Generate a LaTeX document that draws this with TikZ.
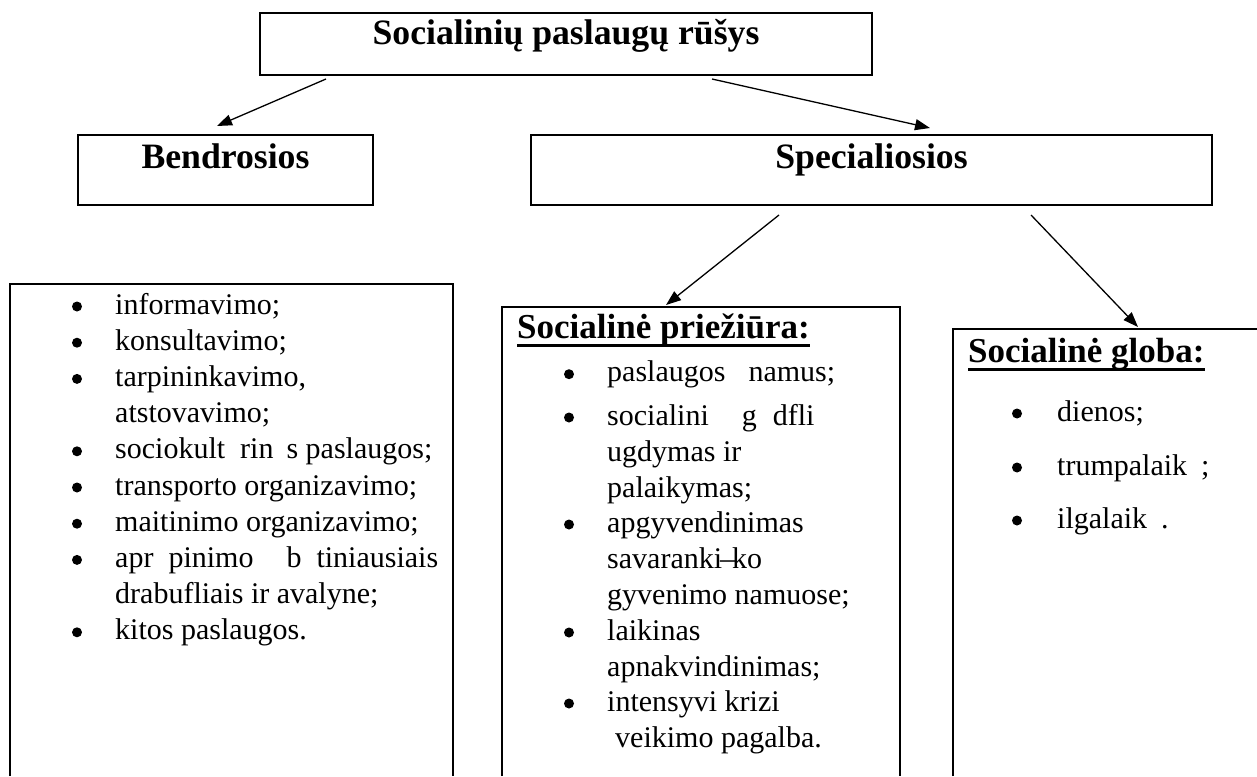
\documentclass[tikz,border=0pt]{standalone}
\usepackage{fontspec}
\setmainfont{Liberation Serif}
\usetikzlibrary{arrows.meta}
\begin{document}
\begin{tikzpicture}[x=1pt,y=-1pt,
  box/.style={draw, line width=2.2pt, inner sep=0pt},
  ttl/.style={font=\fontsize{35.7}{40}\selectfont\bfseries, inner sep=0pt, anchor=base},
  head/.style={font=\fontsize{35}{40}\selectfont\bfseries, inner sep=0pt, anchor=base west},
  itm/.style={font=\fontsize{30}{36}\selectfont, inner sep=0pt, anchor=base west},
  bul/.style={circle, fill, inner sep=0pt, minimum size=10pt, yshift=7.5pt},
  arr/.style={line width=1.3pt, -{Triangle[length=15pt,width=11pt]}},
  frame/.style={line width=2.2pt},
  uline/.style={line width=3pt}
]
\useasboundingbox (0,0) rectangle (1257,776);

% top level boxes
\node[box, minimum width=612pt, minimum height=62pt] (top) at (566,44) {};
\node[ttl] (toptxt) at (566,45) {Socialinių paslaugų rūšys};
\node[box, minimum width=295pt, minimum height=70pt] (bendr) at (225.5,170) {};
\node[ttl] (bendrtxt) at (225.5,168) {Bendrosios};
\node[box, minimum width=681pt, minimum height=70pt] (spec) at (871.5,170) {};
\node[ttl] (spectxt) at (871.5,168) {Specialiosios};

% list frames (open at the bottom)
\coordinate (lbl) at (10,776); \coordinate (ltl) at (10,284);
\coordinate (ltr) at (453,284); \coordinate (lbr) at (453,776);
\draw[frame] (lbl) -- (ltl) -- (ltr) -- (lbr);
\coordinate (mbl) at (502,776); \coordinate (mtl) at (502,307);
\coordinate (mtr) at (900,307); \coordinate (mbr) at (900,776);
\draw[frame] (mbl) -- (mtl) -- (mtr) -- (mbr);
\coordinate (rbl) at (953,776); \coordinate (rtl) at (953,329);
\coordinate (rtr) at (1257,329);
\draw[frame] (rbl) -- (rtl) -- (rtr);

% arrows
\coordinate (a1s) at (326,79); \coordinate (a1e) at (217,126);
\coordinate (a2s) at (712,79); \coordinate (a2e) at (930,128);
\coordinate (a3s) at (779,215); \coordinate (a3e) at (666,305);
\coordinate (a4s) at (1031,215); \coordinate (a4e) at (1138,327);
\draw[arr] (a1s) -- (a1e);
\draw[arr] (a2s) -- (a2e);
\draw[arr] (a3s) -- (a3e);
\draw[arr] (a4s) -- (a4e);

% left list
\node[bul] (lb0) at (77,314) {};
\node[itm] (l0) at (115,314) {informavimo;};
\node[bul] (lb1) at (77,350.2) {};
\node[itm] (l1) at (115,350.2) {konsultavimo;};
\node[bul] (lb2) at (77,386.4) {};
\node[itm] (l2) at (115,386.4) {tarpininkavimo,};
\node[itm] (l3) at (115,422.6) {atstovavimo;};
\node[bul] (lb4) at (77,458.8) {};
\node[itm] (l4) at (115,458.8) {sociokult\hspace{15pt}rin\hspace{13pt}s paslaugos;};
\node[bul] (lb5) at (77,495) {};
\node[itm] (l5) at (115,495) {transporto organizavimo;};
\node[bul] (lb6) at (77,531.2) {};
\node[itm] (l6) at (115,531.2) {maitinimo organizavimo;};
\node[bul] (lb7) at (77,567.4) {};
\node[itm] (l7) at (115,567.4) {apr\hspace{15pt}pinimo\hspace{33pt}b\hspace{15pt}tiniausiais};
\node[itm] (l8) at (115,603.6) {drabufliais ir avalyne;};
\node[bul] (lb9) at (77,639.8) {};
\node[itm] (l9) at (115,639.8) {kitos paslaugos.};

% middle list
\node[head] (mh) at (517,338) {Socialinė priežiūra:};
\draw[uline] ([yshift=-7pt]mh.base west) -- ([yshift=-7pt]mh.base east);
\node[bul] (mb0) at (569,381.7) {};
\node[itm] (m0) at (607,381.7) {paslaugos\hspace{23pt}namus;};
\node[bul] (mb1) at (569,425) {};
\node[itm] (m1) at (607,425) {socialini\hspace{33pt}g\hspace{16pt}dfli};
\node[itm] (m2) at (607,461) {ugdymas ir};
\node[itm] (m3) at (607,497) {palaikymas;};
\node[bul] (mb4) at (569,532) {};
\node[itm] (m4) at (607,532) {apgyvendinimas};
\node[itm] (m5) at (607,568) {savaranki\kern-2pt–\kern-3pt ko};
\node[itm] (m6) at (607,604) {gyvenimo namuose;};
\node[bul] (mb7) at (569,640) {};
\node[itm] (m7) at (607,640) {laikinas};
\node[itm] (m8) at (607,676) {apnakvindinimas;};
\node[bul] (mb9) at (569,711) {};
\node[itm] (m9) at (607,711) {intensyvi krizi};
\node[itm] (m10) at (615,747) {veikimo pagalba.};

% right list
\node[head] (rh) at (968,362) {Socialinė globa:};
\draw[uline] ([yshift=-7pt]rh.base west) -- ([yshift=-7pt]rh.base east);
\node[bul] (rb0) at (1017,421) {};
\node[itm] (r0) at (1057,421) {dienos;};
\node[bul] (rb1) at (1017,475) {};
\node[itm] (r1) at (1057,475) {trumpalaik\hspace{14pt};};
\node[bul] (rb2) at (1017,528) {};
\node[itm] (r2) at (1057,528) {ilgalaik\hspace{14pt}.};
\end{tikzpicture}
\end{document}
